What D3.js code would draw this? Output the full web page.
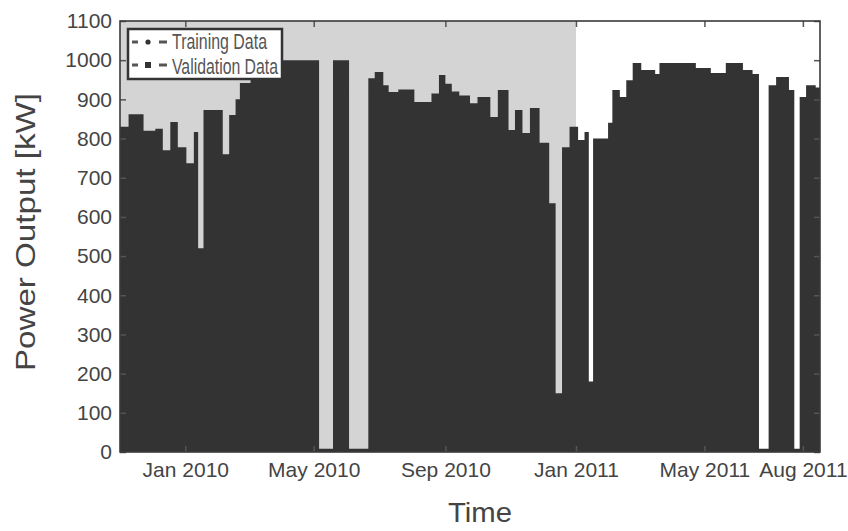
<!DOCTYPE html>
<html>
<head>
<meta charset="utf-8">
<script src="https://cdn.jsdelivr.net/npm/d3@7"></script>
<style>
  body { margin: 0; background: #fff; }
  svg { display: block; font-family: "Liberation Sans", Arial, sans-serif; }
</style>
</head>
<body>
<div id="chart"></div>
<script>
const w = 848;
const h = 531;

// daily peak output envelope (kW), value holds until next date
const peakDates = [
  "2009-11-01", "2009-11-09", "2009-11-23", "2009-12-04", "2009-12-11", "2009-12-18",
  "2009-12-25", "2010-01-02", "2010-01-09", "2010-01-13", "2010-01-18", "2010-02-05",
  "2010-02-11", "2010-02-17", "2010-02-21", "2010-03-03", "2010-05-06", "2010-05-19",
  "2010-06-03", "2010-06-21", "2010-06-27", "2010-07-05", "2010-07-10", "2010-07-19",
  "2010-08-03", "2010-08-19", "2010-08-26", "2010-09-01", "2010-09-07", "2010-09-14",
  "2010-09-24", "2010-10-01", "2010-10-13", "2010-10-20", "2010-10-30", "2010-11-05",
  "2010-11-12", "2010-11-19", "2010-11-28", "2010-12-07", "2010-12-13", "2010-12-19",
  "2010-12-26", "2011-01-03", "2011-01-09", "2011-01-13", "2011-01-17", "2011-01-31",
  "2011-02-04", "2011-02-11", "2011-02-17", "2011-02-23", "2011-03-03", "2011-03-16",
  "2011-03-20", "2011-04-23", "2011-05-07", "2011-05-21", "2011-06-06", "2011-06-15",
  "2011-06-21", "2011-06-30", "2011-07-07", "2011-07-19", "2011-07-24", "2011-07-29",
  "2011-08-04", "2011-08-13"
];
const peakKW = [
  830, 862, 820, 825, 770, 842,
  778, 737, 817, 520, 873, 760,
  860, 900, 942, 1000, 8, 1000,
  8, 954, 970, 936, 919, 925,
  893, 915, 962, 940, 920, 910,
  890, 906, 855, 924, 822, 873,
  814, 878, 789, 635, 150, 778,
  830, 796, 817, 180, 800, 840,
  924, 906, 949, 993, 975, 965,
  993, 980, 967, 993, 975, 965,
  8, 936, 957, 924, 8, 906,
  936, 930
];

const xTickDates = ["2010-01-01", "2010-05-01", "2010-09-01", "2011-01-01", "2011-05-01", "2011-08-01"];
const yTicks = [0, 100, 200, 300, 400, 500, 600, 700, 800, 900, 1000, 1100];
const startDate = "2009-11-01";
const trainingEnd = "2011-01-01";
const endDate = "2011-08-17";
const legendLabels = ["Training Data", "Validation Data"];

const parse = d3.timeParse("%Y-%m-%d");
const m = { left: 120, right: 820, top: 21, bottom: 452 };

const x = d3.scaleTime()
  .domain([parse(startDate), parse(endDate)])
  .range([m.left, m.right]);
const y = d3.scaleLinear().domain([0, 1100]).range([m.bottom, m.top]);

const svg = d3.select("#chart").append("svg")
  .attr("width", w)
  .attr("height", h);

// training period shading
svg.append("rect")
  .attr("x", x(parse(startDate)))
  .attr("y", y(1100))
  .attr("width", x(parse(trainingEnd)) - x(parse(startDate)))
  .attr("height", y(0) - y(1100))
  .attr("fill", "#d4d4d4");

const series = peakDates.map((d, i) => ({ date: parse(d), kw: peakKW[i] }));
series.push({ date: parse(endDate), kw: peakKW[peakKW.length - 1] });

const area = d3.area()
  .curve(d3.curveStepAfter)
  .x((d) => x(d.date))
  .y0(y(0))
  .y1((d) => y(d.kw));

svg.append("path")
  .datum(series)
  .attr("d", area)
  .attr("fill", "#333");

const styleAxis = (g) => {
  g.select(".domain").remove();
  g.selectAll(".tick line").attr("stroke", "#555").attr("stroke-width", 1.5);
  g.selectAll(".tick text")
    .attr("fill", "#444")
    .attr("font-size", 21)
    .attr("font-family", "Liberation Sans, Arial, sans-serif");
};

const xVals = xTickDates.map(parse);

svg.append("g")
  .attr("transform", `translate(0,${m.bottom})`)
  .call(d3.axisBottom(x).tickValues(xVals).tickFormat(d3.timeFormat("%b %Y")).tickSize(-6).tickPadding(10))
  .call(styleAxis);

svg.append("g")
  .attr("transform", `translate(0,${m.top})`)
  .call(d3.axisTop(x).tickValues(xVals).tickFormat("").tickSize(-6))
  .call(styleAxis);

svg.append("g")
  .attr("transform", `translate(${m.left},0)`)
  .call(d3.axisLeft(y).tickValues(yTicks).tickFormat(d3.format("d")).tickSize(-6).tickPadding(8))
  .call(styleAxis);

svg.append("g")
  .attr("transform", `translate(${m.right},0)`)
  .call(d3.axisRight(y).tickValues(yTicks).tickFormat("").tickSize(-6))
  .call(styleAxis);

// frame
svg.append("rect")
  .attr("x", m.left)
  .attr("y", m.top)
  .attr("width", m.right - m.left)
  .attr("height", m.bottom - m.top)
  .attr("fill", "none")
  .attr("stroke", "#3a3a3a")
  .attr("stroke-width", 1.6);

// axis titles
svg.append("text")
  .attr("transform", "translate(35,232) rotate(-90)")
  .attr("text-anchor", "middle")
  .attr("font-size", 28)
  .attr("fill", "#444")
  .attr("textLength", 278)
  .attr("lengthAdjust", "spacingAndGlyphs")
  .text("Power Output [kW]");

svg.append("text")
  .attr("x", 480)
  .attr("y", 522)
  .attr("text-anchor", "middle")
  .attr("font-size", 28)
  .attr("fill", "#444")
  .attr("textLength", 64)
  .attr("lengthAdjust", "spacingAndGlyphs")
  .text("Time");

// legend
const legend = svg.append("g");
legend.append("rect")
  .attr("x", 128)
  .attr("y", 29)
  .attr("width", 154)
  .attr("height", 50)
  .attr("fill", "#fff")
  .attr("stroke", "#333")
  .attr("stroke-width", 2.5);

const rows = legend.selectAll("g.row")
  .data(legendLabels)
  .enter()
  .append("g")
  .attr("class", "row")
  .attr("transform", (d, i) => `translate(0,${i === 0 ? 42 : 65})`);

rows.append("line")
  .attr("x1", 132).attr("x2", 138)
  .attr("stroke", "#555").attr("stroke-width", 3);
rows.append("line")
  .attr("x1", 159).attr("x2", 167)
  .attr("stroke", "#555").attr("stroke-width", 3);
rows.filter((d, i) => i === 0)
  .append("circle")
  .attr("cx", 148).attr("r", 2.6).attr("fill", "#333");
rows.filter((d, i) => i === 1)
  .append("rect")
  .attr("x", 145).attr("y", -3).attr("width", 6).attr("height", 6).attr("fill", "#333");

rows.append("text")
  .attr("x", 172)
  .attr("y", (d, i) => (i === 0 ? 7 : 9))
  .attr("font-size", 22)
  .attr("fill", "#555")
  .attr("textLength", (d, i) => (i === 0 ? 95 : 106))
  .attr("lengthAdjust", "spacingAndGlyphs")
  .text((d) => d);
</script>
</body>
</html>
